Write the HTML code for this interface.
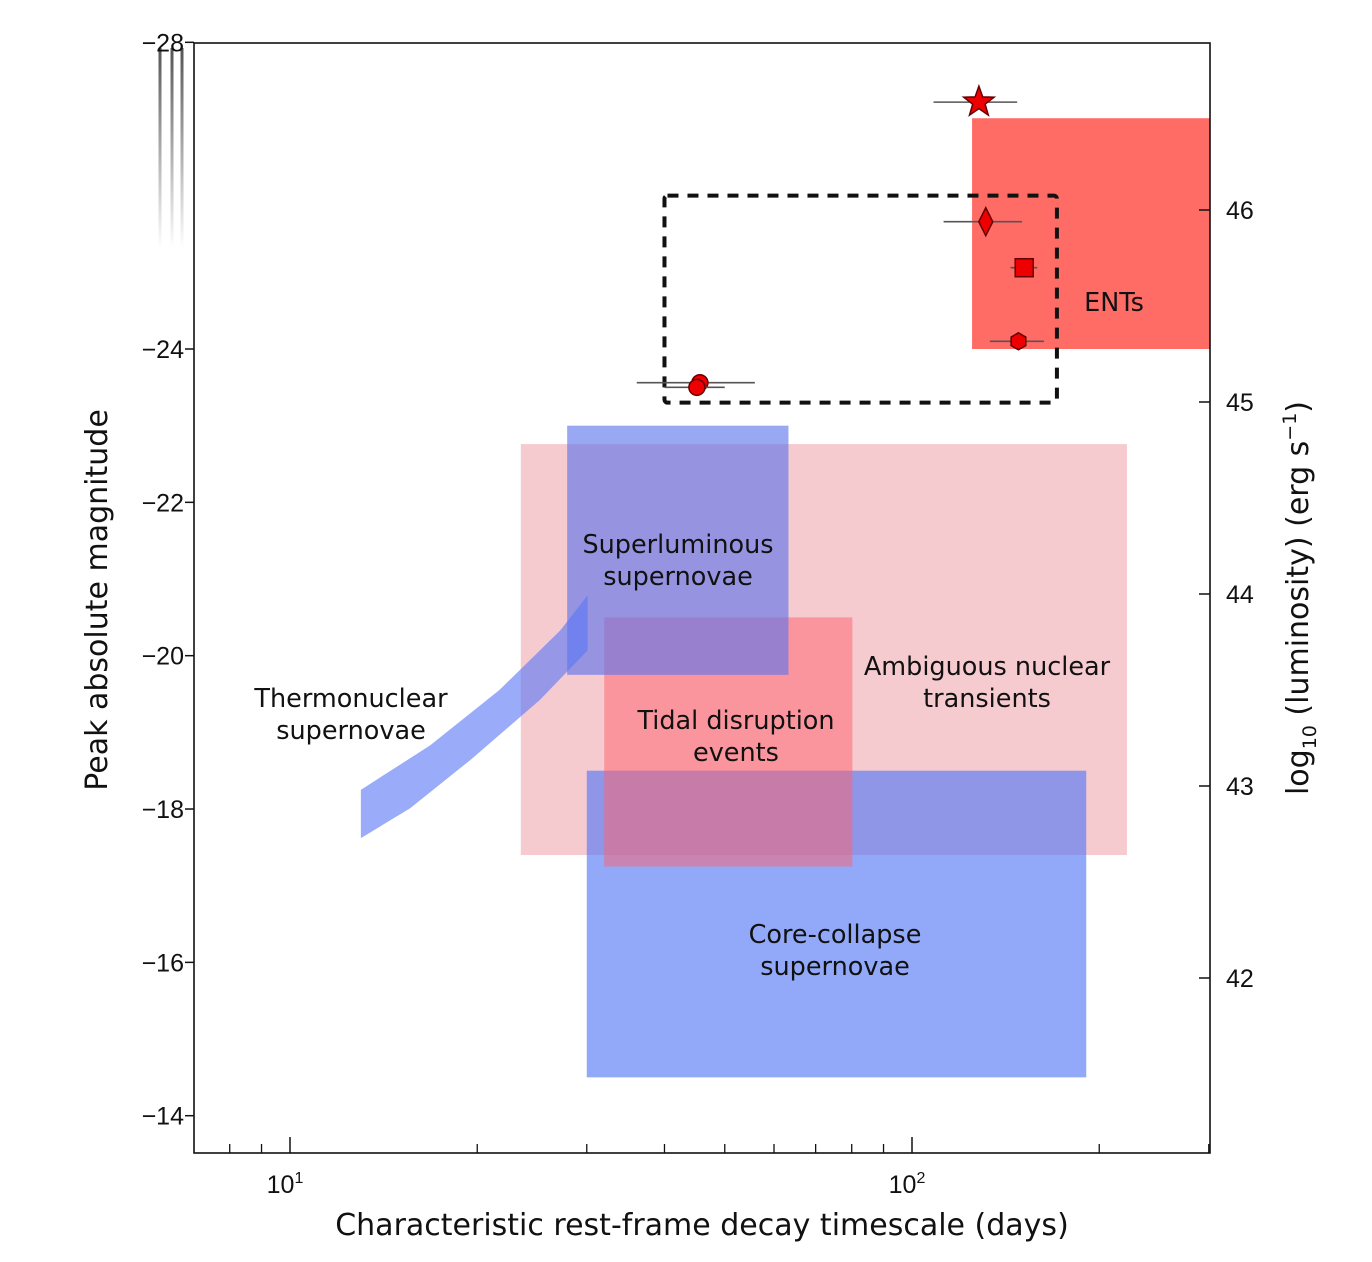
<!DOCTYPE html>
<html><head><meta charset="utf-8">
<style>
html,body{margin:0;padding:0;background:#fff;}
svg{display:block;}
text{font-family:"Liberation Sans","DejaVu Sans",sans-serif;fill:#111;}
text.dj{font-family:"DejaVu Sans","Liberation Sans",sans-serif;}
</style></head>
<body>
<svg id="chart" width="1372" height="1262" viewBox="0 0 1372 1262">
<defs>
<linearGradient id="fade" x1="0" y1="0" x2="0" y2="1">
<stop offset="0" stop-color="#555"/><stop offset="1" stop-color="#555" stop-opacity="0"/>
</linearGradient>
</defs>
<g id="regions"></g>
<g id="axes"></g>
<g id="points"></g>
<g id="labels"></g>
</svg>
<script>
// ---- data ----
const regionNames = ["ambiguous-nuclear-transients","core-collapse-supernovae","tidal-disruption-events","superluminous-supernovae","ents"];
const regionDays0 = [23.5, 30.0, 32.0, 27.9, 124.9];
const regionDays1 = [221.6, 190.6, 80.2, 63.3, 301];
const regionMagTop = [-22.76, -18.5, -20.5, -23.0, -27.01];
const regionMagBot = [-17.4, -14.5, -17.25, -19.75, -24.0];
const regionFill = ["rgba(236,140,150,0.45)","rgba(85,120,245,0.64)","rgba(255,95,105,0.5)","rgba(90,115,235,0.62)","#ff6c66"];

const thermoDays = [13.0,16.8,21.7,27.2,30.1,30.1,25.2,19.5,15.6,13.0];
const thermoMags = [-18.25,-18.83,-19.55,-20.33,-20.79,-20.07,-19.42,-18.64,-18.01,-17.62];

const dashDays = [40.0, 171.0];
const dashMags = [-26.0, -23.3];

const ptShapes = ["star","diamond","square","hexagon","circle","circle"];
const ptDays = [128.1, 131.4, 151.5, 148.3, 45.6, 45.1];
const ptMags = [-27.22, -25.66, -25.06, -24.10, -23.56, -23.5];
const ptErrLo = [108.3, 112.4, 144, 133.4, 36.1, 40];
const ptErrHi = [147.6, 150.3, 159, 163, 55.9, 50];

const yTicks = [-28,-24,-22,-20,-18,-16,-14];
const yTickLabels = ["−28","−24","−22","−20","−18","−16","−14"];
const lumTicks = [46,45,44,43,42];
const xMinor = [8,9,20,30,40,50,60,70,80,90,200,300];

// ---- scales ----
const L=194,R=1210,T=43,B=1153;
const X=d=>290+622*Math.log10(d/10);
const Y=m=>349+(m+24)*76.67;
const YL=l=>402-(l-45)*192;
const NS="http://www.w3.org/2000/svg";
function mk(tag,parent,attrs){const e=document.createElementNS(NS,tag);for(const k in attrs)e.setAttribute(k,attrs[k]);document.getElementById(parent).appendChild(e);return e;}

// regions
regionNames.forEach((n,i)=>{
 const x0=X(regionDays0[i]),x1=Math.min(X(regionDays1[i]),R),y0=Y(regionMagTop[i]),y1=Y(regionMagBot[i]);
 const r=mk("rect","regions",{x:x0,y:y0,width:x1-x0,height:y1-y0,fill:regionFill[i]});
 
 
});
const tp=mk("polygon","regions",{points:thermoDays.map((d,i)=>X(d)+","+Y(thermoMags[i])).join(" "),fill:"rgba(90,120,245,0.62)"});


const db=mk("rect","regions",{x:X(dashDays[0]),y:Y(dashMags[0]),width:X(dashDays[1])-X(dashDays[0]),height:Y(dashMags[1])-Y(dashMags[0]),fill:"none",stroke:"#111","stroke-width":4,"stroke-dasharray":"11,9",rx:3});



// axes
const fr=mk("rect","axes",{x:L,y:T,width:R-L,height:B-T,fill:"none",stroke:"#111","stroke-width":1.6});


[160,172,182].forEach(x=>{const a=mk("rect","axes",{x:x-1.5,y:48,width:3,height:200,fill:"url(#fade)"});});
yTicks.forEach((m,i)=>{
 mk("line","axes",{x1:L-9,x2:L,y1:Y(m),y2:Y(m),stroke:"#111","stroke-width":1.5});
 const t=mk("text","axes",{x:L-10,y:Y(m)+9,"text-anchor":"end","font-size":25});
 t.textContent=yTickLabels[i];
 
 
});
lumTicks.forEach(l=>{
 mk("line","axes",{x1:R-11,x2:R,y1:YL(l),y2:YL(l),stroke:"#111","stroke-width":1.5});
 const t=mk("text","axes",{x:R+16,y:YL(l)+9,"font-size":25});
 t.textContent=l;
 
 
});
xMinor.forEach(d=>{mk("line","axes",{x1:X(d),x2:X(d),y1:B-9,y2:B,stroke:"#111","stroke-width":1.3});});
[10,100].forEach(d=>{
 mk("line","axes",{x1:X(d),x2:X(d),y1:B-16,y2:B,stroke:"#111","stroke-width":1.5});
 const t=mk("text","axes",{x:X(d)-5,y:1193,"text-anchor":"middle","font-size":25});
 t.innerHTML="10<tspan dy='-10' font-size='16'>"+(d===10?"1":"2")+"</tspan>";
 
 
});

// points
ptShapes.forEach((s,i)=>{
 const cx=X(ptDays[i]),cy=Y(ptMags[i]);
 const eb=mk("line","points",{x1:X(ptErrLo[i]),x2:X(ptErrHi[i]),y1:cy,y2:cy,stroke:"#555","stroke-width":1.6});
 
 
 let e,a={fill:"#e00",stroke:"#600","stroke-width":1.5};
 if(s==="star"){let p=[];for(let k=0;k<10;k++){const r=k%2?6.5:16,an=-Math.PI/2+k*Math.PI/5;p.push((cx+r*Math.cos(an)).toFixed(1)+","+(cy+r*Math.sin(an)).toFixed(1));}a.points=p.join(" ");e=mk("polygon","points",a);}
 else if(s==="diamond"){a.points=`${cx},${cy-14} ${cx+7},${cy} ${cx},${cy+14} ${cx-7},${cy}`;e=mk("polygon","points",a);}
 else if(s==="square"){Object.assign(a,{x:cx-9,y:cy-9,width:18,height:18});e=mk("rect","points",a);}
 else if(s==="hexagon"){let p=[];for(let k=0;k<6;k++){const an=Math.PI/6+k*Math.PI/3;p.push((cx+8.5*Math.cos(an)).toFixed(1)+","+(cy+8.5*Math.sin(an)).toFixed(1));}a.points=p.join(" ");e=mk("polygon","points",a);}
 else {Object.assign(a,{cx:cx,cy:cy,r:8});e=mk("circle","points",a);}
 
 
});

// labels
function lab(lines,x,y,name,size){const t=mk("text","labels",{x:x,y:y,"text-anchor":"middle","font-size":size||25.5,"class":"dj"});
 lines.forEach((l,k)=>{const s=document.createElementNS(NS,"tspan");s.setAttribute("x",x);s.setAttribute("dy",k?32:0);s.textContent=l;t.appendChild(s);});
 
 }
lab(["Superluminous","supernovae"],678,553,"superluminous-label");
lab(["Tidal disruption","events"],736,729,"tde-label");
lab(["Ambiguous nuclear","transients"],987,675,"ant-label");
lab(["Thermonuclear","supernovae"],351,707,"thermonuclear-label");
lab(["Core-collapse","supernovae"],835,943,"ccsn-label");
lab(["ENTs"],1114,311,"ents-label");
lab(["Characteristic rest-frame decay timescale (days)"],702,1235,"x-axis-title",30);
const yt=mk("text","labels",{x:0,y:0,"text-anchor":"middle","font-size":30,"class":"dj",transform:"translate(107,600) rotate(-90)"});
yt.textContent="Peak absolute magnitude";


const rt=mk("text","labels",{x:0,y:0,"text-anchor":"middle","font-size":30,"class":"dj",transform:"translate(1308,598) rotate(-90)"});
rt.innerHTML="log<tspan dy='8' font-size='19'>10</tspan><tspan dy='-8'> (luminosity) (erg s</tspan><tspan dy='-12' font-size='19'>−1</tspan><tspan dy='12'>)</tspan>";


</script>
</body></html>
